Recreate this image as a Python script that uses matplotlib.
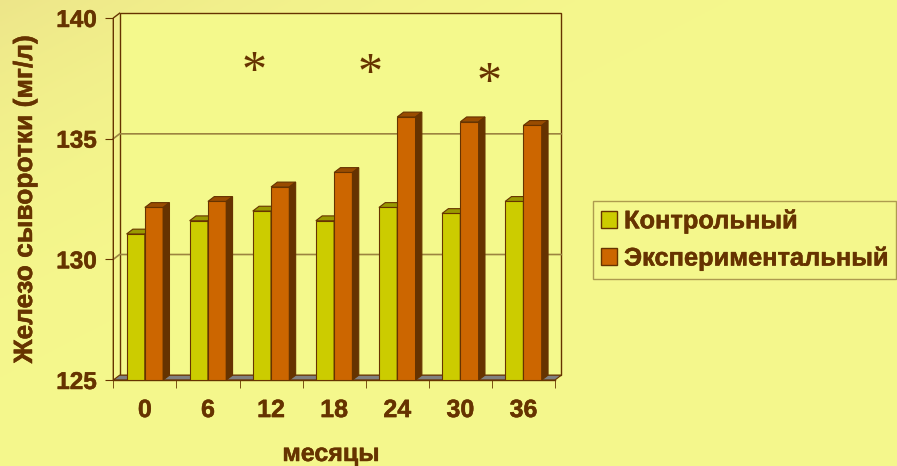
import numpy as np
import matplotlib.pyplot as plt
import matplotlib.patheffects as pe
from matplotlib.patches import Polygon, Patch

months = ["0", "6", "12", "18", "24", "30", "36"]
control = [131.05, 131.6, 132.0, 131.6, 132.15, 131.9, 132.4]
experimental = [132.15, 132.4, 133.0, 133.6, 135.9, 135.7, 135.55]
series_names = ["Контрольный", "Экспериментальный"]
star_pos = [(1.73, 138.2), (3.57, 138.1), (5.45, 137.75)]  # asterisks, data coords

BASE, TOP = 125, 140
dx, dy = 0.1, 0.2  # 3d depth in data units
w = 0.29

brown = "#663300"
grid_c = "#9C8440"
heavy = [pe.withStroke(linewidth=0.35, foreground=brown)]

plt.rcParams['font.family'] = ['Liberation Sans', 'DejaVu Sans']

fig = plt.figure(figsize=(8.97, 4.66), dpi=100)

# yellow gradient background
bg = fig.add_axes([0, 0, 1, 1], zorder=-5)
yy, xx = np.mgrid[0:1:200j, 0:1:400j]
g = np.clip(1 - (xx + yy) * 0.9, 0, 1)
c1 = np.array([0.96, 0.97, 0.55])
c0 = np.array([0.93, 0.90, 0.54])
img = c1[None, None, :] * (1 - g[..., None] ** 3) + c0[None, None, :] * g[..., None] ** 3
bg.imshow(img, aspect='auto', extent=[0, 1, 0, 1], origin='upper')
bg.axis('off')

ax = fig.add_axes([113.3 / 897, 1 - 380 / 466, (555 - 113.3) / 897, 362 / 466])
ax.set_xlim(-0.5, 6.5)
ax.set_ylim(BASE, TOP)
ax.patch.set_alpha(0)
for s in ax.spines.values():
    s.set_visible(False)

x = np.arange(len(months))
x0, x1 = -0.5, len(months) - 0.5

# back wall + floor + left wall
ax.add_patch(Polygon([(x0 + dx, BASE + dy), (x1 + dx, BASE + dy), (x1 + dx, TOP + dy), (x0 + dx, TOP + dy)],
                     closed=True, facecolor="#F4F98C", edgecolor=brown, lw=1, clip_on=False, zorder=0))
for v in [130, 135]:
    ax.plot([x0, x0 + dx, x1 + dx], [v, v + dy, v + dy], color=grid_c, lw=1.2, clip_on=False, zorder=0.5)
ax.add_patch(Polygon([(x0, BASE), (x1, BASE), (x1 + dx, BASE + dy), (x0 + dx, BASE + dy)],
                     closed=True, facecolor="#808080", edgecolor=brown, lw=0.8, clip_on=False, zorder=1))
ax.plot([x0, x0, x0 + dx], [BASE, TOP, TOP + dy], color=brown, lw=1, clip_on=False, zorder=1)
ax.plot([x0, x1], [BASE, BASE], color=brown, lw=1, clip_on=False, zorder=1)

# 3d bars
styles = [("#CCCC00", "#999900", "#808000"), ("#CC6600", "#994C00", "#663300")]
for i in range(len(months)):
    for k, vals in enumerate([control, experimental]):
        face, topc, side = styles[k]
        left = x[i] - w + k * w
        v = vals[i]
        z = 2 + i * 2 + k
        ax.bar(left, v - BASE, width=w, bottom=BASE, align='edge', color=face,
               edgecolor=brown, lw=0.8, zorder=z)
        ax.add_patch(Polygon([(left, v), (left + w, v), (left + w + dx, v + dy), (left + dx, v + dy)],
                             closed=True, facecolor=topc, edgecolor=brown, lw=0.8, zorder=z))
        ax.add_patch(Polygon([(left + w, BASE), (left + w, v), (left + w + dx, v + dy), (left + w + dx, BASE + dy)],
                             closed=True, facecolor=side, edgecolor=brown, lw=0.8, zorder=z))

star_fs = 36
for sx, sy in star_pos:
    ax.annotate("*", (sx, sy), xytext=(0, -0.47 * star_fs), textcoords='offset points',
                family="Liberation Serif", fontsize=star_fs, color=brown,
                ha='center', va='baseline')

ax.set_yticks([125, 130, 135, 140])
ax.set_yticklabels(["125", "130", "135", "140"])
ax.set_xticks(x)
ax.set_xticklabels(months)
ax.set_xticks(np.arange(x0, x1 + 0.1, 1), minor=True)
ax.tick_params(axis='y', direction='out', length=6, color=brown, labelcolor=brown,
               labelsize=17.5, pad=6)
ax.tick_params(axis='x', which='major', length=0, labelcolor=brown, labelsize=18, pad=13)
ax.tick_params(axis='x', which='minor', direction='out', length=6, color=brown)
for lab in ax.get_xticklabels() + ax.get_yticklabels():
    lab.set_fontweight('bold')
    lab.set_path_effects(heavy)

fig.text(25 / 897, 1 - 199 / 466, "Железо сыворотки (мг/л)", rotation=90, ha='center', va='center',
         fontsize=19, fontweight='bold', color=brown, path_effects=heavy)
fig.text(331 / 897, 1 - 454 / 466, "месяцы", ha='center', va='center',
         fontsize=18, fontweight='bold', color=brown, path_effects=heavy)

handles = [Patch(facecolor=styles[k][0], edgecolor=brown) for k in range(2)]
leg = fig.legend(handles, series_names, loc='upper left', bbox_to_anchor=(593 / 897, 1 - 200.7 / 466),
                 prop={'weight': 'bold', 'size': 18.3}, frameon=True, fancybox=False,
                 handlelength=0.62, handleheight=0.62, handletextpad=0.28, labelspacing=0.5,
                 borderpad=0.32, borderaxespad=0)
leg.get_frame().set_edgecolor(grid_c)
leg.get_frame().set_facecolor('none')
for t in leg.get_texts():
    t.set_color(brown)
    t.set_path_effects(heavy)

fig.savefig("out.png", dpi=100)
